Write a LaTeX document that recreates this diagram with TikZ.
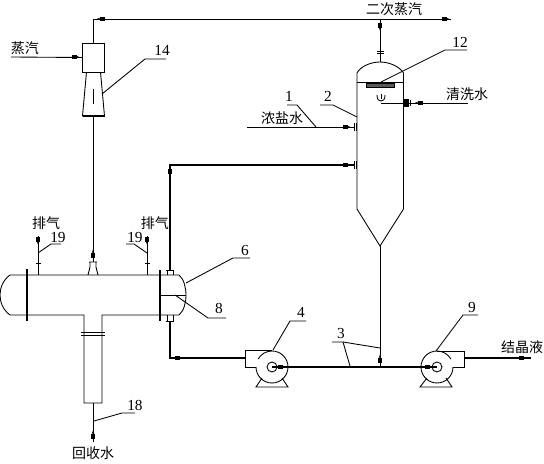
\documentclass[tikz,border=0pt]{standalone}
\usepackage{fontspec}
\setmainfont{Liberation Serif}
\newfontfamily\cjk{Noto Sans CJK SC}
\tikzset{
  x=0.75pt,y=-0.75pt,
  thin line/.style={line width=0.65pt,black},
  thick line/.style={line width=1.5pt,black},
  flange/.style={line width=1.7pt,black},
  num/.style={font=\fontsize{11.5}{12}\selectfont,inner sep=0pt},
  zh/.style={font=\cjk\fontsize{10.5}{12}\selectfont,inner sep=0pt},
  tip/.pic={\fill[black] (-3.5,-2) rectangle (1.5,2); \fill[black] (1.5,-1.2) -- (4.5,0) -- (1.5,1.2) -- cycle;},
}
\begin{document}
\begin{tikzpicture}[thin line]
\useasboundingbox[fill=white] (0,0) rectangle (544,464);
% named points
\coordinate (topL) at (93,19);
\coordinate (topR) at (451,19);
\coordinate (vap) at (380,19);
\coordinate (domeT) at (380,62);
\coordinate (apex) at (380,246);
\coordinate (junc) at (380,367);
\coordinate (steam) at (11,57);
\coordinate (brine) at (247,127);
\coordinate (brineE) at (354,127);
\coordinate (feedE) at (354,165);
\coordinate (feedC) at (170,165);
\coordinate (wash) at (468,103);
\coordinate (washE) at (381,103);
\coordinate (out) at (531,358);
% ejector
\node[draw,thin line,minimum width=16.5pt,minimum height=21.75pt,inner sep=0pt] (ej) at (93.5,57.5) {};
\draw (86.5,72) -- (82.5,116) -- (104.5,116) -- (100.5,72);
\draw[line width=1.1pt] (82.5,116) -- (104.5,116);
\draw (93,89) -- (93,104);
\coordinate (ejB) at (93,116);
\coordinate (ejT) at (93,43);
\draw (ejT) -- (topL) -- (topR);
\draw (steam) -- (ej.west);
\pic at (75,57) {tip};
\pic[rotate=180] at (101,19) {tip};
\pic at (445,19) {tip};
\draw (ejB) -- (93,262);
\pic[rotate=90] at (93,254) {tip};
% evaporator
\draw (357,209) -- (357,73) .. controls (360,67) and (370,62) .. (domeT) .. controls (390,62) and (400,67) .. (403.5,73) -- (403.5,209) -- (apex) -- cycle;
\draw (357,82) -- (403.5,82);
\draw[fill=black!65,line width=0.7pt] (366.5,83) rectangle (394,87);
\draw (domeT) -- (vap);
\draw (377,51) -- (384,51) (377,53.5) -- (384,53.5);
\pic[rotate=-90] at (380,26) {tip};
\draw (apex) -- (junc);
\pic[rotate=90] at (380,359) {tip};
% spray
\draw (377,95) .. controls (377,100) and (379,101) .. (381,101) .. controls (383,101) and (385,100) .. (385,95);
\draw (381,94) -- (381,99);
\draw (washE) -- (wash);
\draw[flange] (405,99) -- (405,107) (407.5,99) -- (407.5,107);
\draw (410,100) -- (410,106);
\pic[rotate=180] at (419,103) {tip};
% brine & feed
\draw (brine) -- (brineE);
\pic at (346,127) {tip};
\draw (354,123) -- (354,131) (356,123) -- (356,131);
\draw[thick line] (feedE) -- (feedC) -- (170,270);
\pic at (346,165) {tip};
\draw (354,161) -- (354,169) (356,161) -- (356,169);
\pic[rotate=-90] at (170,172) {tip};
% condenser
\draw (27,275) -- (10,275) .. controls (3,280) and (0,288) .. (0,295) .. controls (0,302) and (3,310) .. (10,315) -- (27,315);
\draw (27,275) -- (179,275) .. controls (184,279) and (186,288) .. (186,295) .. controls (186,302) and (184,311) .. (179,315) -- (102,315) -- (102,403) -- (84,403) -- (84,315) -- (27,315);
\draw[flange] (27,269) -- (27,321);
\draw[flange] (160,270) -- (160,321);
\draw (160,295) -- (186,295);
\draw (81,332) -- (105,332) (81,335) -- (105,335);
% nozzle
\draw (89,262) -- (97,262) (90,262) -- (90,267) -- (88,275) (96,262) -- (96,267) -- (98,275);
% shell flanges
\draw (166,270) -- (174,270) (167,270) -- (167,275) (173,270) -- (173,275);
\draw (166,321) -- (174,321) (167,315) -- (167,321) (173,315) -- (173,321);
\draw[thick line] (170,321) -- (170,358) -- (245,358);
\pic at (178,358) {tip};
% vents
\draw (38,275) -- (38,236);
\draw (147,275) -- (147,236);
\draw (35.5,263) -- (40.5,263) (144.5,263) -- (149.5,263);
\pic[rotate=-90] at (38,240) {tip};
\pic[rotate=-90] at (147,240) {tip};
% condensate
\coordinate (legB) at (93,403);
\coordinate (drain) at (93,442);
\draw (legB) -- (drain);
\pic[rotate=90] at (93,435) {tip};
% pump 4
\coordinate (p4) at (272,367);
\draw (256,367) arc[start angle=180,end angle=-150,radius=16];
\draw (245,358) -- (245,350) -- (272,350);
\draw (245,358) -- (245,367) -- (256,367);
\node[circle,draw,thin line,minimum size=7.5pt,inner sep=0pt] (p4eye) at (p4) {};
\draw (262,378) -- (256,387) -- (288,387) -- (282,378);
% pump 9
\coordinate (p9) at (437,367);
\draw (453,367) arc[start angle=0,end angle=330,radius=16];
\draw (437,351) -- (464,351) -- (464,367) -- (453,367);
\node[circle,draw,thin line,minimum size=7.5pt,inner sep=0pt] (p9eye) at (p9) {};
\draw (427,378) -- (420,387) -- (452,387) -- (446,378);
% main line
\draw[thick line] (p4) -- (p9);
\pic[rotate=180] at (279,367) {tip};
\pic at (428,367) {tip};
\draw[thick line] (464,358) -- (out);
\pic at (522,358) {tip};
% leaders
\draw (102,94) -- (145,59) -- (166,59);
\draw (381,82) -- (445,50) -- (467,50);
\draw (287,105) -- (297,105) -- (316,127);
\draw (320,105) -- (333,105) -- (357,117);
\draw (38,253) -- (51,244) -- (61,244);
\draw (147,253) -- (134,244) -- (126,244);
\draw (186,283) -- (233,258) -- (250,258);
\draw (175,295) -- (208,318) -- (226,318);
\draw (94,421) -- (122,413) -- (135,413);
\draw (273,350) -- (290,321) -- (306,321);
\draw (436,351) -- (463,315) -- (478,315);
\draw (332,342) -- (343,342) -- (350,366);
\draw (343,342) -- (380,348);
% labels
\node[zh] (t1) at (25,48) {蒸汽};
\node[zh] (t2) at (394,9) {二次蒸汽};
\node[zh] (t3) at (467,94) {清洗水};
\node[zh] (t4) at (282,118) {浓盐水};
\node[zh] (t5) at (46,223) {排气};
\node[zh] (t6) at (155,223) {排气};
\node[zh] (t7) at (93,453) {回收水};
\node[zh] (t8) at (522,347) {结晶液};
\node[num] (n14) at (162,50) {14};
\node[num] (n12) at (460,42) {12};
\node[num] (n1) at (289,96) {1};
\node[num] (n2) at (328,96) {2};
\node[num] (n19a) at (58,237) {19};
\node[num] (n19b) at (135,237) {19};
\node[num] (n6) at (245,250) {6};
\node[num] (n8) at (219,308) {8};
\node[num] (n18) at (135,405) {18};
\node[num] (n4) at (301,312) {4};
\node[num] (n3) at (341,333) {3};
\node[num] (n9) at (472,307) {9};
\end{tikzpicture}
\end{document}
